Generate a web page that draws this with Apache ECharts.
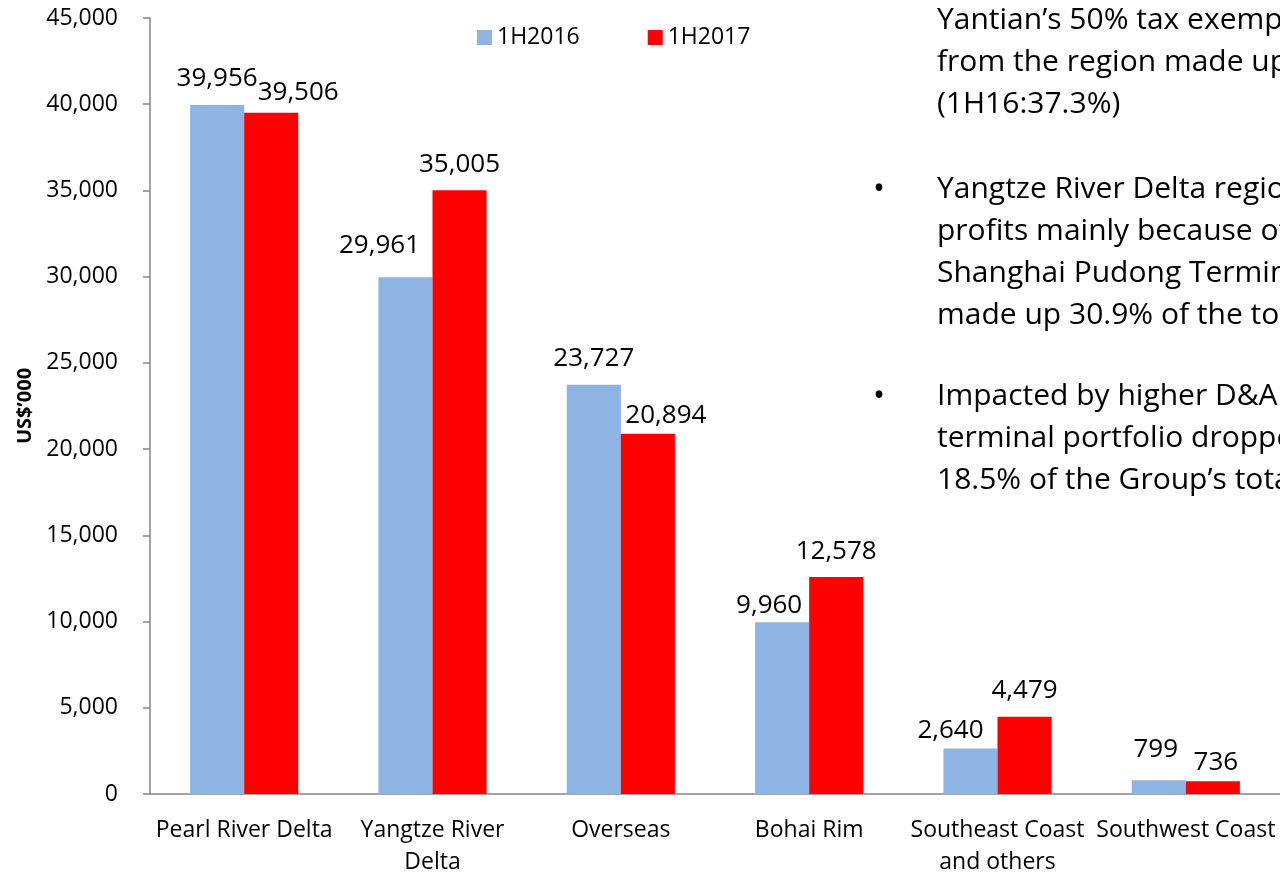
<!DOCTYPE html>
<html>
<head>
<meta charset="utf-8">
<script src="https://cdn.jsdelivr.net/npm/echarts@6/dist/echarts.min.js"></script>
<style>
    html, body { margin: 0; padding: 0; background: #fff; }
    #main { width: 1280px; height: 872px; }
</style>
</head>
<body>
<div id="main"></div>
<script>
var regions = ['Pearl River Delta', 'Yangtze River\nDelta', 'Overseas', 'Bohai Rim', 'Southeast Coast\nand others', 'Southwest Coast'];
var seriesNames = ['1H2016', '1H2017'];
var values2016 = [39956, 29961, 23727, 9960, 2640, 799];
var values2017 = [39506, 35005, 20894, 12578, 4479, 736];
var yTicks = [0, 45000, 5000];   // min, max, interval

var bulletBlocks = [
    { bullet: false, lines: ['Yantian\u2019s 50% tax exemption', 'from the region made up', '(1H16:37.3%)'] },
    { bullet: true, lines: ['Yangtze River Delta region', 'profits mainly because of', 'Shanghai Pudong Terminal', 'made up 30.9% of the total'] },
    { bullet: true, lines: ['Impacted by higher D&A', 'terminal portfolio dropped', '18.5% of the Group\u2019s total'] }
];

var chartDom = document.getElementById('main');
var myChart = echarts.init(chartDom);
var FONT = '"Open Sans", Lato, sans-serif';

// Excel-style manual nudges of the value labels
var shift2016 = [[0, 0], [-26, -6], [0, 0], [-13, 9], [-20, 8], [-3, -5]];
var shift2017 = [[27, 6], [0, 0], [18, 8], [0, 0], [0, 0], [3, 7]];

function withLabels(vals, shifts) {
    return vals.map(function (v, i) {
        return { value: v, label: { offset: shifts[i] } };
    });
}

// 右侧说明文字
var graphics = [];
var baselines = [[32, 74, 116], [201, 243, 285, 327], [408, 450, 492]];
bulletBlocks.forEach(function (b, bi) {
    b.lines.forEach(function (t, li) {
        graphics.push({
            type: 'text', left: 937, top: baselines[bi][li] - 27,
            style: { text: t, font: '30px ' + FONT, fill: '#000' }
        });
    });
    if (b.bullet) {
        graphics.push({
            type: 'text', left: 873, top: baselines[bi][0] - 27,
            style: { text: '\u2022', font: '32px ' + FONT, fill: '#000' }
        });
    }
});

var option = {
    animation: false,
    textStyle: { fontFamily: FONT },
    grid: { left: 150, right: 0, top: 18, bottom: 78, outerBoundsMode: 'none' },
    legend: {
        left: 472, top: 21,
        itemWidth: 15, itemHeight: 15, itemGap: 68,
        icon: 'rect',
        textStyle: { fontSize: 23, color: '#000', fontFamily: FONT },
        data: seriesNames
    },
    xAxis: {
        type: 'category',
        data: regions,
        axisLine: { lineStyle: { color: '#868686', width: 1.5 } },
        axisTick: { length: 8, lineStyle: { color: '#868686', width: 1.5 } },
        axisLabel: { fontSize: 23, color: '#000', margin: 20, lineHeight: 32, interval: 0, fontFamily: FONT }
    },
    yAxis: {
        type: 'value',
        min: yTicks[0], max: yTicks[1], interval: yTicks[2],
        name: 'US$\u2019000',
        nameLocation: 'middle',
        nameGap: 115,
        nameTextStyle: { fontSize: 20, fontWeight: 'bold', color: '#000', fontFamily: FONT },
        splitLine: { show: false },
        axisLine: { show: true, lineStyle: { color: '#868686', width: 1.5 } },
        axisTick: { show: true, length: 7, lineStyle: { color: '#868686', width: 1.5 } },
        axisLabel: {
            fontSize: 23, color: '#000', margin: 32, fontFamily: FONT,
            formatter: function (v) { return v.toLocaleString('en-US'); }
        }
    },
    series: [
        {
            name: seriesNames[0], type: 'bar',
            data: withLabels(values2016, shift2016),
            barGap: '0%', barCategoryGap: '42.6%',
            itemStyle: { color: '#8EB4E3' },
            label: {
                show: true, position: 'top', distance: 13,
                fontSize: 26, color: '#000', fontFamily: FONT,
                formatter: function (p) { return p.value.toLocaleString('en-US'); }
            }
        },
        {
            name: seriesNames[1], type: 'bar',
            data: withLabels(values2017, shift2017),
            barGap: '0%', barCategoryGap: '42.6%',
            itemStyle: { color: '#FF0000' },
            label: {
                show: true, position: 'top', distance: 13,
                fontSize: 26, color: '#000', fontFamily: FONT,
                formatter: function (p) { return p.value.toLocaleString('en-US'); }
            }
        }
    ],
    graphic: graphics
};

myChart.setOption(option);
</script>
</body>
</html>
